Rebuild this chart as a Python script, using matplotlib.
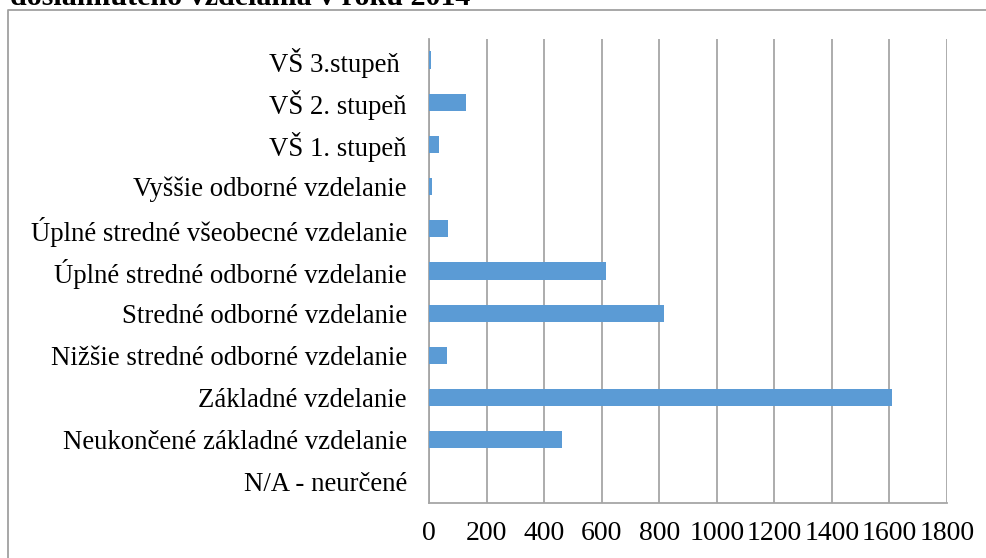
import matplotlib.pyplot as plt
from matplotlib.lines import Line2D

# kategórie od spodu nahor
kategorie = [
    'N/A - neurčené',
    'Neukončené základné vzdelanie',
    'Základné vzdelanie',
    'Nižšie stredné odborné vzdelanie',
    'Stredné odborné vzdelanie',
    'Úplné stredné odborné vzdelanie',
    'Úplné stredné všeobecné vzdelanie',
    'Vyššie odborné vzdelanie',
    'VŠ 1. stupeň',
    'VŠ 2. stupeň',
    'VŠ 3.stupeň ',
]
pocty = [0, 461, 1610, 63, 816, 614, 65, 10, 35, 128, 6]
x_ticks = [0, 200, 400, 600, 800, 1000, 1200, 1400, 1600, 1800]

W, H = 987, 558
plt.rcParams['font.family'] = ['Liberation Serif', 'DejaVu Serif']

fig = plt.figure(figsize=(W / 100, H / 100), dpi=100)
ax = fig.add_axes([429 / W, 55 / H, (947 - 429) / W, (503 - 39) / H])

ax.barh(range(len(kategorie)), pocty, height=0.41, color='#5B9BD5', zorder=3)

ax.set_xlim(0, 1800)
ax.set_ylim(-0.5, len(kategorie) - 0.5)
ax.set_xticks(x_ticks)
ax.set_yticks(range(len(kategorie)))
ax.set_yticklabels(kategorie)
ax.tick_params(axis='both', length=0, colors='black')
ax.tick_params(axis='x', pad=13, labelsize=20)
ax.tick_params(axis='y', pad=16, labelsize=19.3)

ax.grid(axis='x', color='#a6a6a6', linewidth=1.3, zorder=0)
for s in ['top', 'right']:
    ax.spines[s].set_visible(False)
for s in ['left', 'bottom']:
    ax.spines[s].set_color('#a6a6a6')
    ax.spines[s].set_linewidth(1.3)

# rámik grafu (vidno len ľavú a hornú stranu)
fig.add_artist(Line2D([8 / W, 8 / W, 1.0], [0.0, 1 - 10 / H, 1 - 10 / H],
                      transform=fig.transFigure, color='#a0a0a0', linewidth=1.3))

# orezaný nadpis
fig.text(10 / W, 1 - 5 / H, 'dosiahnutého vzdelania v roku 2014', fontsize=21.6,
         fontweight='bold', va='baseline', ha='left')

fig.savefig('out.png', dpi=100)
